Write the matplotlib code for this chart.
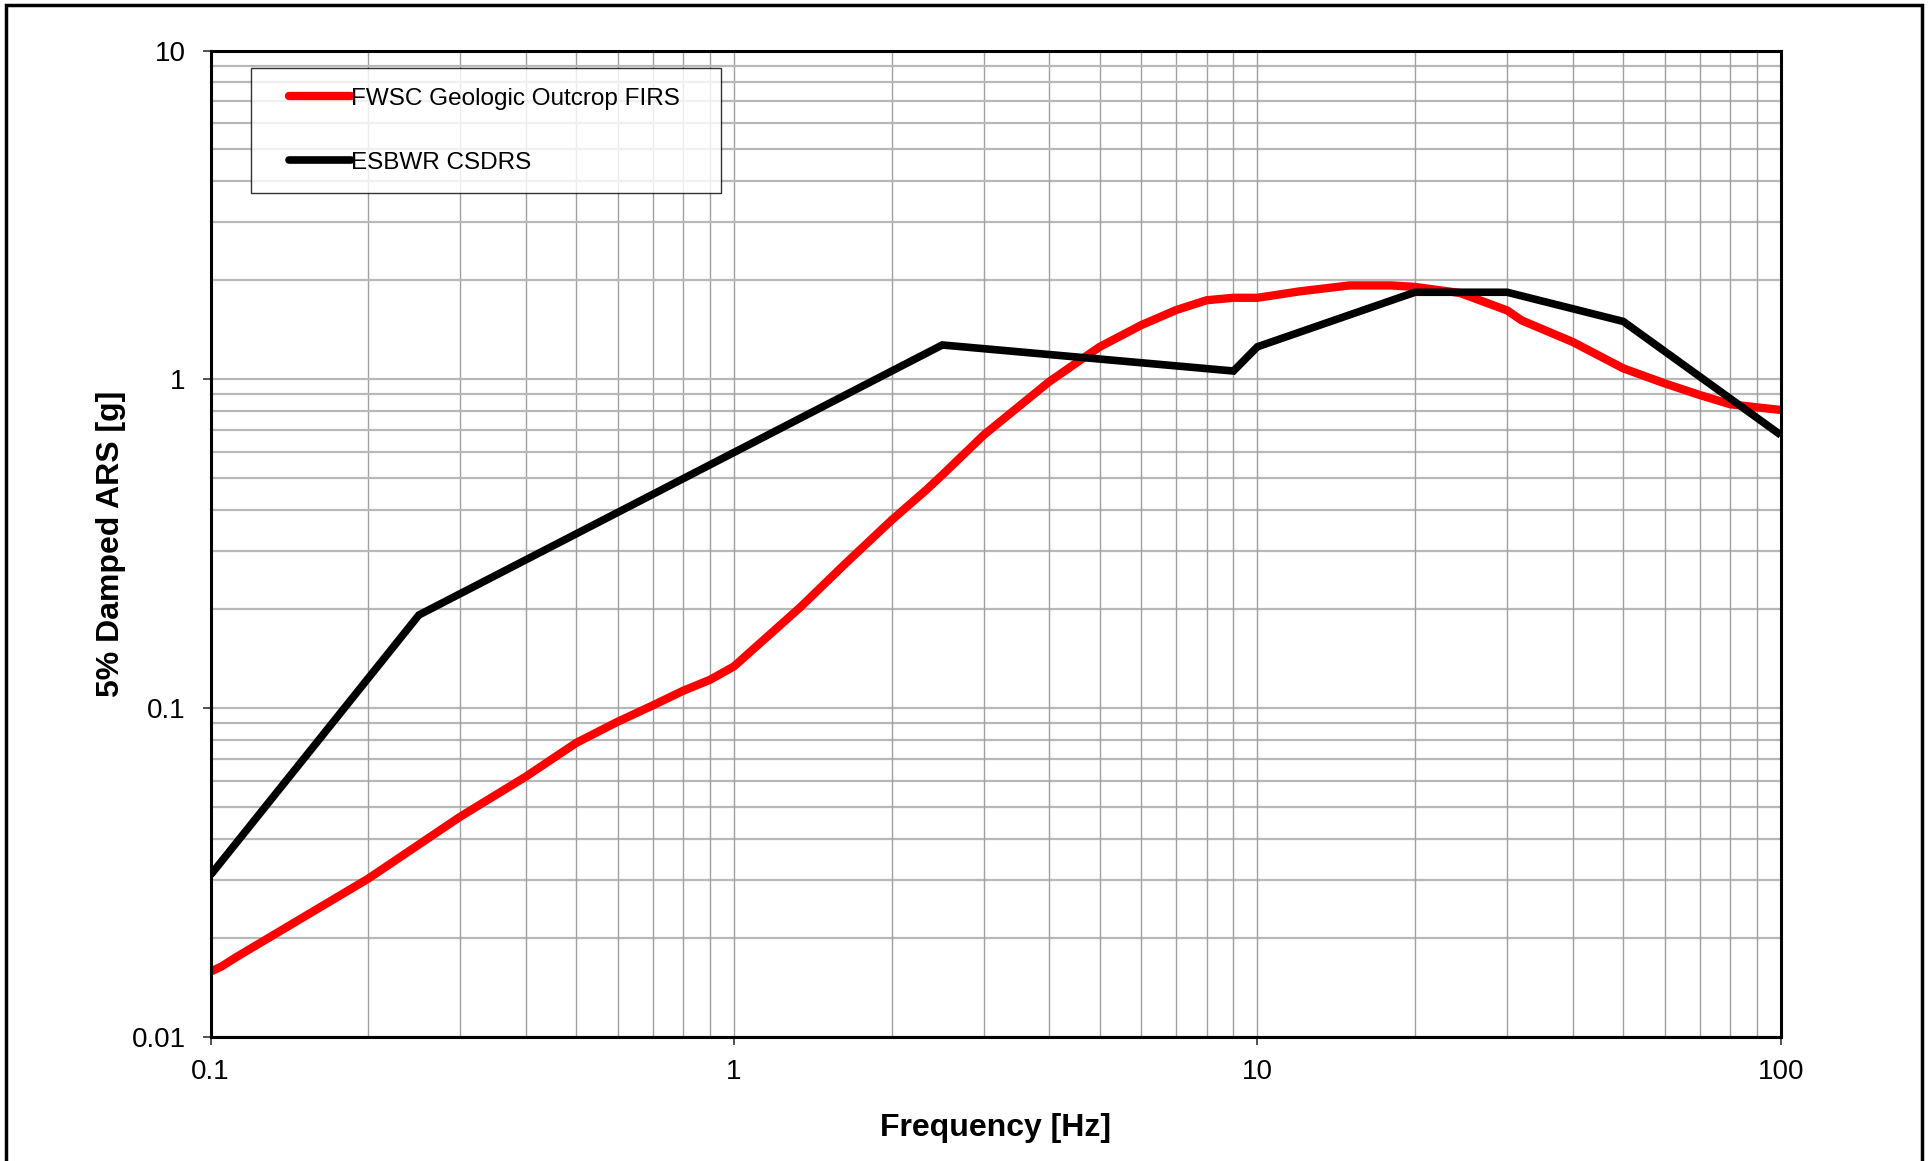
import matplotlib
matplotlib.use("Agg")
import matplotlib.pyplot as plt
from matplotlib.lines import Line2D
from matplotlib.legend_handler import HandlerLine2D
from matplotlib.patches import Rectangle
from matplotlib.ticker import FixedLocator, FixedFormatter, NullFormatter

plt.rcParams['font.family'] = ['Liberation Sans', 'DejaVu Sans']

# FWSC Geologic Outcrop FIRS
firs_freq = [0.1, 0.105, 0.112, 0.2, 0.3, 0.4, 0.5, 0.6, 0.7, 0.8, 0.9, 1.0,
             1.34, 1.62, 2.0, 2.33, 2.5, 3.0, 4.0, 4.64, 5.0, 6.0, 7.0, 8.0,
             9.0, 10.0, 12.0, 15.0, 18.0, 20.0, 24.4, 30.0, 32.0, 40.0, 50.0,
             60.0, 70.0, 80.0, 90.0, 100.0]
firs_sa = [0.0158, 0.0164, 0.0175, 0.0303, 0.0468, 0.0619, 0.0785, 0.091,
           0.102, 0.113, 0.122, 0.134, 0.203, 0.272, 0.373, 0.461, 0.512,
           0.677, 0.983, 1.158, 1.256, 1.462, 1.625, 1.74, 1.77, 1.77, 1.85,
           1.93, 1.93, 1.91, 1.83, 1.62, 1.51, 1.30, 1.08, 0.972, 0.896,
           0.84, 0.822, 0.807]

# ESBWR CSDRS
csdrs_freq = [0.1, 0.25, 2.5, 9.0, 10.0, 20.0, 30.0, 50.0, 100.0]
csdrs_sa = [0.0311, 0.192, 1.272, 1.06, 1.256, 1.84, 1.84, 1.50, 0.677]

series_labels = ['FWSC Geologic Outcrop FIRS', 'ESBWR CSDRS']
x_ticks = [0.1, 1, 10, 100]
x_ticklabels = ['0.1', '1', '10', '100']
y_ticks = [0.01, 0.1, 1, 10]
y_ticklabels = ['0.01', '0.1', '1', '10']

W, H = 1931, 1161
fig = plt.figure(figsize=(W / 100, H / 100), dpi=100)
ax = fig.add_axes([210.6 / W, 1 - 1037 / H, 1570.2 / W, 986.5 / H])

ax.set_xscale('log')
ax.set_yscale('log')
ax.set_xlim(0.1, 100)
ax.set_ylim(0.01, 10)

# grid: light horizontals, slightly darker verticals
minor = [m * 10.0 ** e for e in range(-3, 3) for m in range(1, 10)]
for v in minor:
    if 0.01 <= v <= 10:
        ax.axhline(v, color='#b8b8b8', lw=1.6, zorder=1)
    if 0.1 <= v <= 100:
        ax.axvline(v, color='#a0a0a0', lw=1.0, zorder=1)

ax.plot(firs_freq, firs_sa, color='#ff0000', lw=6, label=series_labels[0],
        solid_capstyle='butt', solid_joinstyle='round', zorder=3)
ax.plot(csdrs_freq, csdrs_sa, color='black', lw=5.5, label=series_labels[1],
        solid_capstyle='butt', solid_joinstyle='miter', zorder=4)

ax.xaxis.set_major_locator(FixedLocator(x_ticks))
ax.xaxis.set_major_formatter(FixedFormatter(x_ticklabels))
ax.yaxis.set_major_locator(FixedLocator(y_ticks))
ax.yaxis.set_major_formatter(FixedFormatter(y_ticklabels))
ax.xaxis.set_minor_formatter(NullFormatter())
ax.yaxis.set_minor_formatter(NullFormatter())
ax.tick_params(which='minor', length=0)
ax.tick_params(which='major', direction='out', length=6, width=1.2,
               labelsize=20, color='#333333')
ax.tick_params(axis='x', pad=10)
ax.tick_params(axis='y', pad=12)

for s in ax.spines.values():
    s.set_linewidth(2.2)
    s.set_zorder(5)

ax.set_xlabel('Frequency [Hz]', fontsize=23, fontweight='bold', labelpad=20)
ax.set_ylabel('5% Damped ARS [g]', fontsize=23, fontweight='bold', labelpad=4)

leg = ax.legend(loc='upper left', bbox_to_anchor=(0.0257, 0.855, 0.2993, 0.127),
                mode='expand', fontsize=17.5, frameon=True, fancybox=False,
                edgecolor='black', handlelength=3.33, handletextpad=0.0,
                borderpad=0.8, labelspacing=1.72, borderaxespad=0,
                handler_map={Line2D: HandlerLine2D(xpad=0.78)})
leg.get_frame().set_linewidth(1.0)
leg.set_zorder(6)
for h in leg.get_lines():
    h.set_solid_capstyle('round')

# outer frame around the whole picture
fig.add_artist(Rectangle((6 / W, -0.05), (1922 - 6) / W, 1.05 - 5 / H,
                         transform=fig.transFigure, fill=False,
                         edgecolor='black', lw=2.5, clip_on=False))

fig.savefig('out.png', dpi=100)
